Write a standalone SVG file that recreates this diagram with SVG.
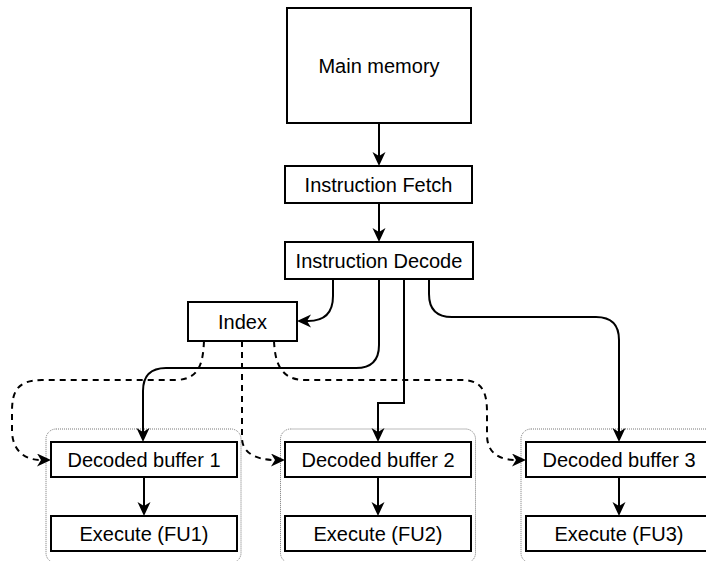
<svg xmlns="http://www.w3.org/2000/svg" width="706" height="561" viewBox="0 0 706 561">
<defs>
<style>
.box{fill:#fff;stroke:#000;stroke-width:2}
.grp{fill:none;stroke:#777;stroke-width:1;stroke-dasharray:1 1}
.t{font-family:"Liberation Sans",Arial,sans-serif;font-size:20px;fill:#000;text-anchor:middle}
.c{fill:none;stroke:#000;stroke-width:2}
.d{fill:none;stroke:#000;stroke-width:2;stroke-dasharray:6 5}
</style>
<marker id="arr" markerUnits="userSpaceOnUse" markerWidth="16" markerHeight="14" refX="4" refY="6.5" orient="auto">
<path d="M0,0 L14,6.5 L0,13 L4,6.5 Z" fill="#000"/>
</marker>
</defs>
<rect width="706" height="561" fill="#fff"/>
<g id="group1"><rect class="grp" x="46" y="429" width="195" height="134" rx="10"/></g>
<g id="group2"><rect class="grp" x="280.5" y="429" width="195" height="134" rx="10"/></g>
<g id="group3"><rect class="grp" x="521" y="429" width="195" height="134" rx="10"/></g>
<g id="connectors">
<path class="c" d="M379,123 L379,156" marker-end="url(#arr)"/>
<path class="c" d="M379,203 L379,232" marker-end="url(#arr)"/>
<path class="c" d="M333,279 L333,296 Q333,321 308,321 L307,321" marker-end="url(#arr)"/>
<path class="c" d="M379,279 L379,345 Q379,368 356,368 L166,368 Q143,368 143,391 L143,432" marker-end="url(#arr)"/>
<path class="c" d="M404,279 L404,403 L378,403 L378,432" marker-end="url(#arr)"/>
<path class="c" d="M429,279 L429,294 Q429,317 452,317 L596,317 Q619,317 619,340 L619,432" marker-end="url(#arr)"/>
<path class="c" d="M144,477 L144,506" marker-end="url(#arr)"/>
<path class="c" d="M378,477 L378,506" marker-end="url(#arr)"/>
<path class="c" d="M619,477 L619,506" marker-end="url(#arr)"/>
<path class="d" d="M204,341 C203,362 200,380 175,380 L42,380 C16,380 12,393 12,412 L12,430 C12,450 24,460 41,460" marker-end="url(#arr)"/>
<path class="d" d="M242,341 L242,438 C242,452 255,460 275,460" marker-end="url(#arr)"/>
<path class="d" d="M274,341 C275,362 280,380 305,380 L462,380 C482,380 487,392 487,412 L487,435 C487,452 498,460 516,460" marker-end="url(#arr)"/>
</g>
<g id="main-memory"><rect class="box" x="287" y="8" width="184" height="115"/><text class="t" x="379" y="72.5">Main memory</text></g>
<g id="instruction-fetch"><rect class="box" x="285" y="166" width="187" height="37"/><text class="t" x="378.5" y="191.5">Instruction Fetch</text></g>
<g id="instruction-decode"><rect class="box" x="285" y="242" width="188" height="37"/><text class="t" x="379" y="267.5">Instruction Decode</text></g>
<g id="index"><rect class="box" x="188" y="302" width="109" height="39"/><text class="t" x="242.5" y="328.5">Index</text></g>
<g id="decoded-buffer-1"><rect class="box" x="51" y="442" width="186" height="35"/><text class="t" x="144" y="467">Decoded buffer 1</text></g>
<g id="execute-fu1"><rect class="box" x="51" y="516" width="186" height="35"/><text class="t" x="144" y="541">Execute (FU1)</text></g>
<g id="decoded-buffer-2"><rect class="box" x="285" y="442" width="186" height="35"/><text class="t" x="378" y="467">Decoded buffer 2</text></g>
<g id="execute-fu2"><rect class="box" x="285" y="516" width="186" height="35"/><text class="t" x="378" y="541">Execute (FU2)</text></g>
<g id="decoded-buffer-3"><rect class="box" x="526" y="442" width="186" height="35"/><text class="t" x="619" y="467">Decoded buffer 3</text></g>
<g id="execute-fu3"><rect class="box" x="526" y="516" width="186" height="35"/><text class="t" x="619" y="541">Execute (FU3)</text></g>
</svg>
